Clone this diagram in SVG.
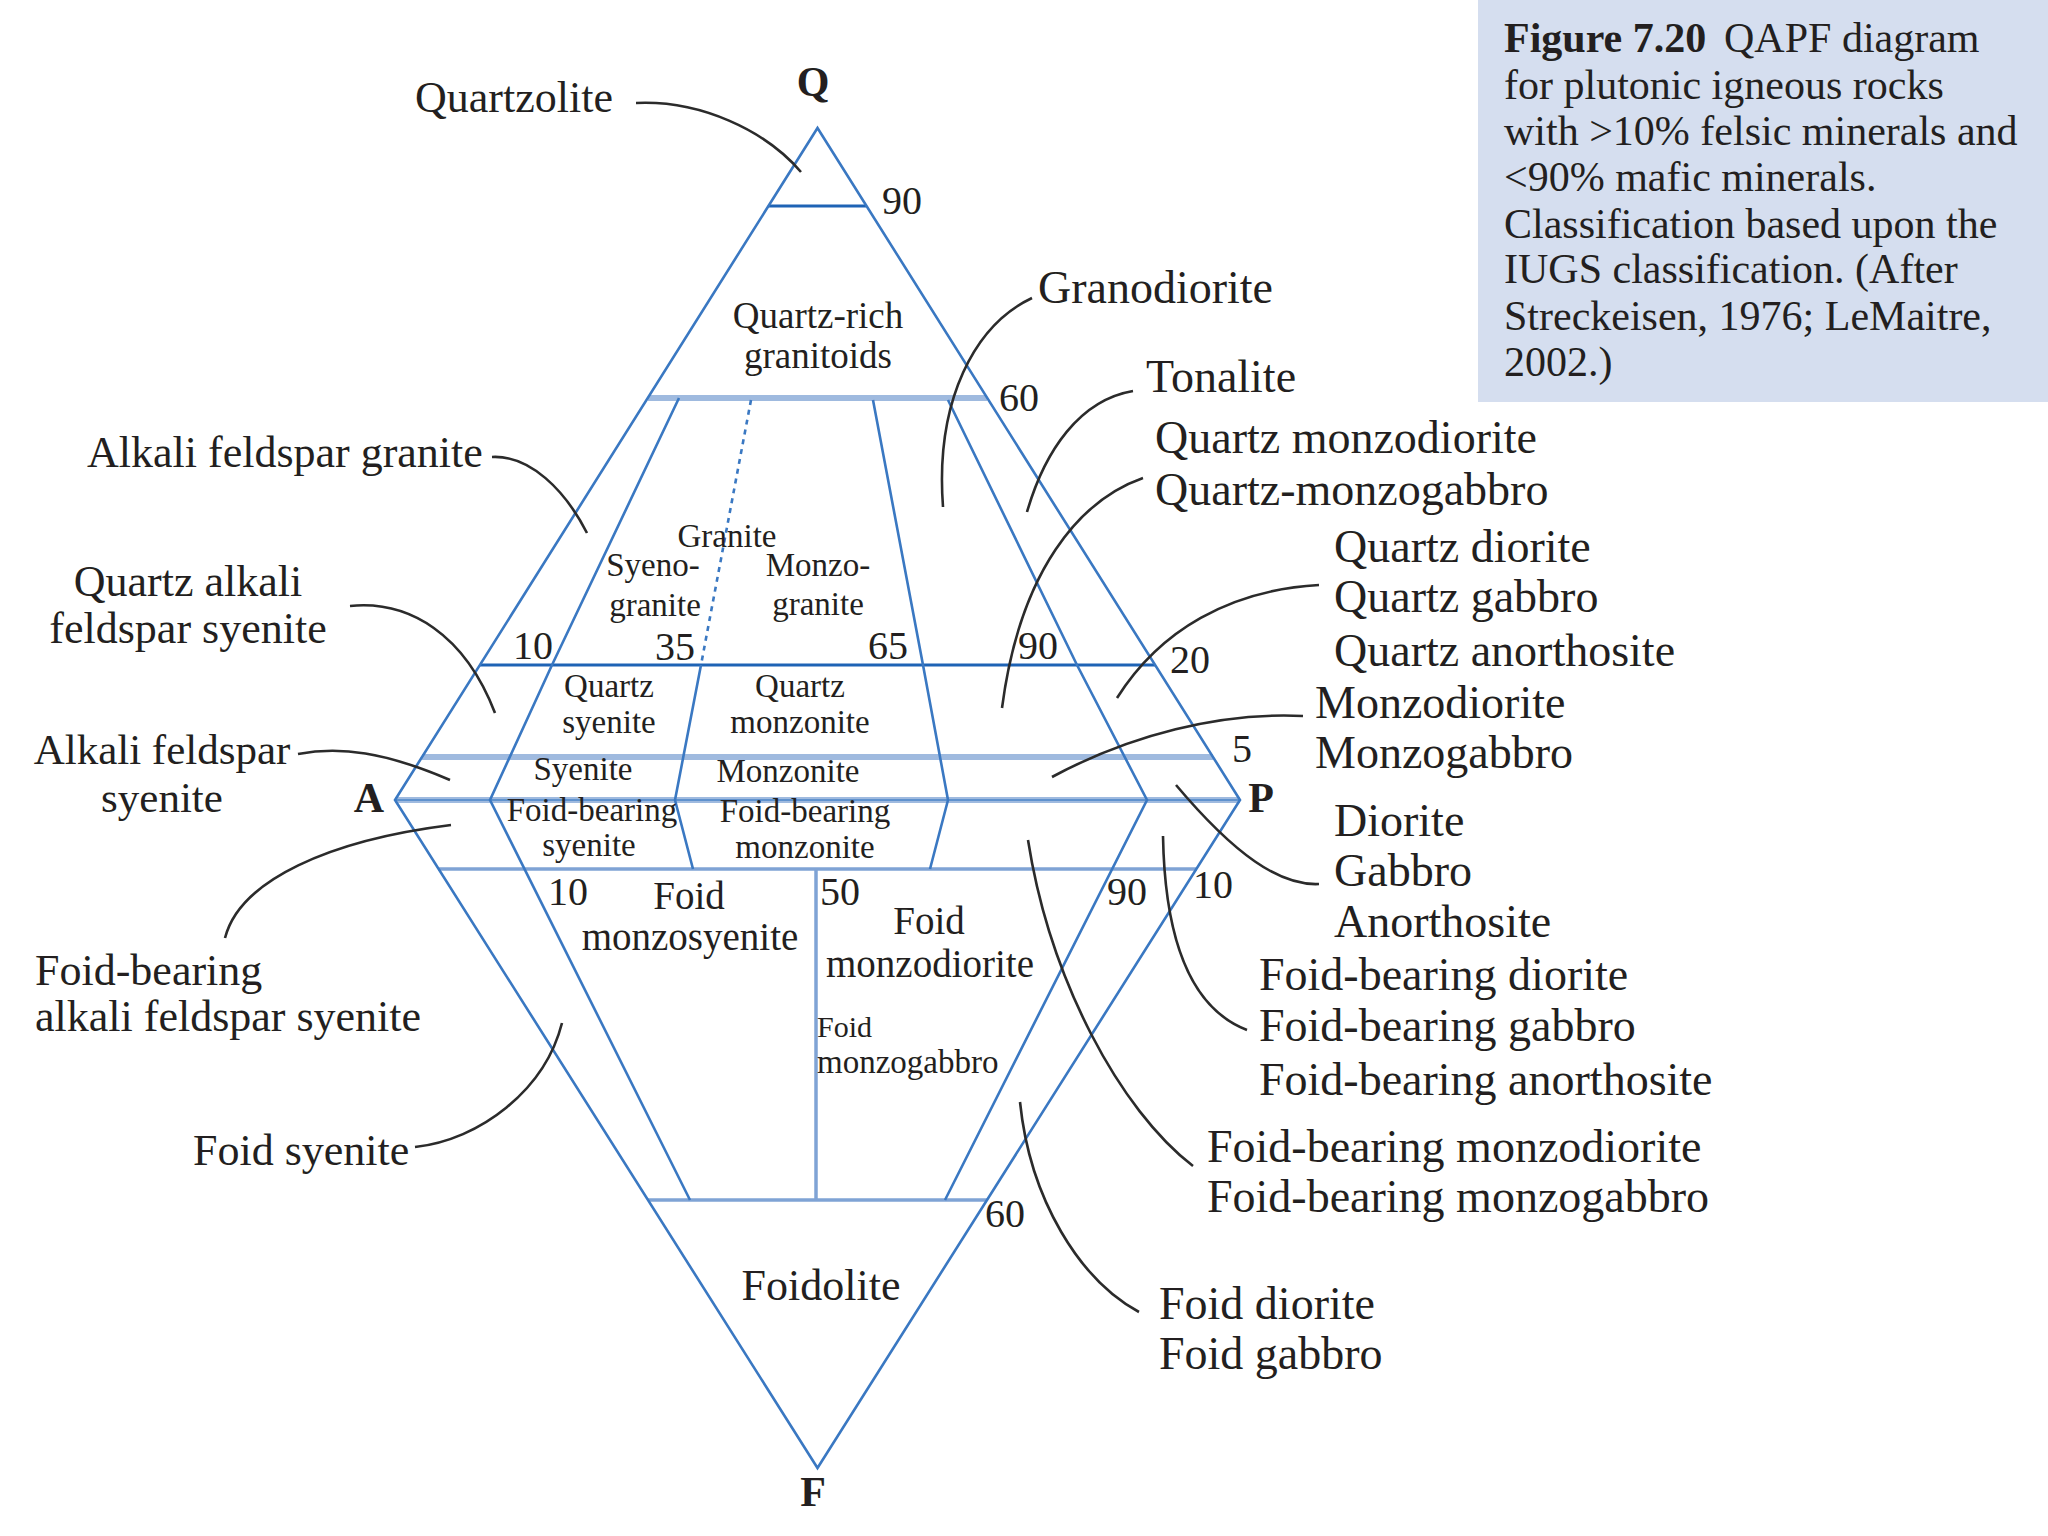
<svg xmlns="http://www.w3.org/2000/svg" width="2048" height="1536" viewBox="0 0 2048 1536">
<style>
text{font-family:"Liberation Serif","DejaVu Serif",serif;fill:#231f20}
.lbl{font-size:46px}
.lbl2{font-size:44px}
.num{font-size:40px}
.in{font-size:33px}
.mid{text-anchor:middle}
.vtx{font-size:42px;font-weight:bold;text-anchor:middle}
.cap{font-size:42px}
.edge{stroke:#3a78c2;stroke-width:2.6;fill:none}
.dark{stroke:#1e63b5;stroke-width:3.2;fill:none}
.light{stroke:#9fbadf;stroke-width:6;fill:none}
.mlight{stroke:#7fa3d5;stroke-width:3.5;fill:none}
.core{stroke:#4a84c8;stroke-width:1.6;fill:none}
.dot{stroke:#3a78c2;stroke-width:2.6;fill:none;stroke-dasharray:5 5}
.lead{stroke:#2b2b2b;stroke-width:2.6;fill:none}
</style>
<rect x="0" y="0" width="2048" height="1536" fill="#ffffff"/>
<g id="caption">
<rect x="1478" y="0" width="570" height="402" fill="#d5deef"/>
<text class="cap" x="1504" y="52"><tspan font-weight="bold">Figure 7.20</tspan><tspan x="1724">QAPF diagram</tspan></text>
<text class="cap" x="1504" y="99">for plutonic igneous rocks</text>
<text class="cap" x="1504" y="145">with &gt;10% felsic minerals and</text>
<text class="cap" x="1504" y="191">&lt;90% mafic minerals.</text>
<text class="cap" x="1504" y="238">Classification based upon the</text>
<text class="cap" x="1504" y="283">IUGS classification. (After</text>
<text class="cap" x="1504" y="330">Streckeisen, 1976; LeMaitre,</text>
<text class="cap" x="1504" y="376">2002.)</text>
</g>
<g id="grid">
<line class="light" x1="648" y1="398" x2="987" y2="398"/>
<line class="light" x1="422" y1="757" x2="1213" y2="757"/>
<line class="light" x1="395" y1="800" x2="1240" y2="800"/>
<line class="core" x1="395" y1="800" x2="1240" y2="800"/>
<line class="mlight" x1="438" y1="869" x2="1197" y2="869"/>
<line class="mlight" x1="648" y1="1200" x2="987" y2="1200"/>
<line class="mlight" x1="816" y1="869" x2="816" y2="1200"/>
<line class="dark" x1="768" y1="206" x2="866" y2="206"/>
<line class="dark" x1="480" y1="665" x2="1155" y2="665"/>
<polyline class="edge" points="679,398 552,665 490,800 690,1200"/>
<line class="dot" x1="751" y1="400" x2="701" y2="665"/>
<polyline class="edge" points="701,665 675,800 693,869"/>
<polyline class="edge" points="873,400 923,665 948,800 930,869"/>
<polyline class="edge" points="948,400 1077,665 1147,800 945,1200"/>
<polygon class="edge" points="817.5,128 395,800 817.5,1468 1240,800"/>
</g>
<g id="connectors">
<path class="lead" d="M 636 103 C 700 100, 765 130, 801 172"/>
<path class="lead" d="M 492 457 C 530 455, 565 490, 587 533"/>
<path class="lead" d="M 350 606 C 410 600, 465 635, 495 713"/>
<path class="lead" d="M 298 754 C 340 746, 385 752, 450 780"/>
<path class="lead" d="M 225 938 C 240 880, 330 840, 451 825"/>
<path class="lead" d="M 415 1147 C 480 1140, 545 1090, 562 1023"/>
<path class="lead" d="M 1032 298 C 975 325, 935 400, 943 507"/>
<path class="lead" d="M 1133 391 C 1080 400, 1045 450, 1027 512"/>
<path class="lead" d="M 1143 478 C 1080 500, 1020 570, 1002 708"/>
<path class="lead" d="M 1319 585 C 1230 590, 1160 630, 1117 698"/>
<path class="lead" d="M 1303 716 C 1220 712, 1130 735, 1052 777"/>
<path class="lead" d="M 1319 884 C 1280 886, 1235 855, 1176 785"/>
<path class="lead" d="M 1247 1030 C 1195 1010, 1165 950, 1163 836"/>
<path class="lead" d="M 1193 1166 C 1120 1110, 1050 980, 1028 840"/>
<path class="lead" d="M 1139 1312 C 1080 1280, 1030 1200, 1020 1102"/>
</g>
<g id="vertices">
<text id="vQ" class="vtx" x="813" y="96">Q</text>
<text id="vA" class="vtx" x="369" y="812">A</text>
<text id="vP" class="vtx" x="1261" y="812">P</text>
<text id="vF" class="vtx" x="813" y="1506">F</text>
</g>
<g id="numbers" class="num">
<text x="882" y="214">90</text>
<text x="999" y="411">60</text>
<text x="513" y="659">10</text>
<text x="655" y="660">35</text>
<text x="868" y="659">65</text>
<text x="1018" y="659">90</text>
<text x="1170" y="673">20</text>
<text x="1232" y="762">5</text>
<text x="548" y="905">10</text>
<text x="820" y="905">50</text>
<text x="1107" y="905">90</text>
<text x="1193" y="898">10</text>
<text x="985" y="1227">60</text>
</g>
<g id="n-quartzolite"><text class="lbl2" x="415" y="112">Quartzolite</text></g>
<g id="n-afgranite"><text class="lbl2" x="87" y="467">Alkali feldspar granite</text></g>
<g id="n-qafsyenite"><text class="lbl2 mid" x="188" y="596">Quartz alkali</text><text class="lbl2 mid" x="188" y="643">feldspar syenite</text></g>
<g id="n-afsyenite"><text class="lbl2 mid" x="162" y="764" style="font-size:43px">Alkali feldspar</text><text class="lbl2 mid" x="162" y="812" style="font-size:43px">syenite</text></g>
<g id="n-fbafsyenite"><text class="lbl2" x="35" y="985">Foid-bearing</text><text class="lbl2" x="35" y="1031">alkali feldspar syenite</text></g>
<g id="n-foidsyenite"><text class="lbl2" x="193" y="1165">Foid syenite</text></g>
<g id="n-foidolite"><text class="mid" style="font-size:44px" x="821" y="1300">Foidolite</text></g>
<g id="n-granodiorite"><text class="lbl" x="1038" y="303">Granodiorite</text></g>
<g id="n-tonalite"><text class="lbl" x="1146" y="392">Tonalite</text></g>
<g id="n-qmonzodiorite"><text class="lbl" x="1155" y="453">Quartz monzodiorite</text><text class="lbl" x="1155" y="505">Quartz-monzogabbro</text></g>
<g id="n-qdiorite"><text class="lbl" x="1334" y="562">Quartz diorite</text><text class="lbl" x="1334" y="612">Quartz gabbro</text><text class="lbl" x="1334" y="666">Quartz anorthosite</text></g>
<g id="n-monzodiorite"><text class="lbl" x="1315" y="718">Monzodiorite</text><text class="lbl" x="1315" y="768">Monzogabbro</text></g>
<g id="n-diorite"><text class="lbl" x="1334" y="836">Diorite</text><text class="lbl" x="1334" y="886">Gabbro</text><text class="lbl" x="1334" y="937">Anorthosite</text></g>
<g id="n-fbdiorite"><text class="lbl" x="1259" y="990">Foid-bearing diorite</text><text class="lbl" x="1259" y="1041">Foid-bearing gabbro</text><text class="lbl" x="1259" y="1095">Foid-bearing anorthosite</text></g>
<g id="n-fbmonzodiorite"><text class="lbl" x="1207" y="1162">Foid-bearing monzodiorite</text><text class="lbl" x="1207" y="1212">Foid-bearing monzogabbro</text></g>
<g id="n-foiddiorite"><text class="lbl" x="1159" y="1319">Foid diorite</text><text class="lbl" x="1159" y="1369">Foid gabbro</text></g>
<g id="n-qrich"><text class="mid" style="font-size:37px" x="818" y="328">Quartz-rich</text><text class="mid" style="font-size:37px" x="818" y="368">granitoids</text></g>
<g id="n-granite"><text class="in mid" x="727" y="547">Granite</text><text class="in mid" x="653" y="576">Syeno-</text><text class="in mid" x="655" y="616">granite</text><text class="in mid" x="818" y="576">Monzo-</text><text class="in mid" x="818" y="615">granite</text></g>
<g id="n-qsyenite"><text class="in mid" x="609" y="697">Quartz</text><text class="in mid" x="609" y="733">syenite</text></g>
<g id="n-qmonzonite"><text class="in mid" x="800" y="697">Quartz</text><text class="in mid" x="800" y="733">monzonite</text></g>
<g id="n-syenite"><text class="in mid" x="583" y="780">Syenite</text></g>
<g id="n-monzonite"><text class="in mid" x="788" y="782">Monzonite</text></g>
<g id="n-fbsyenite"><text class="in mid" x="592" y="821">Foid-bearing</text><text class="in mid" x="589" y="856">syenite</text></g>
<g id="n-fbmonzonite"><text class="in mid" x="805" y="822">Foid-bearing</text><text class="in mid" x="805" y="858">monzonite</text></g>
<g id="n-foidmonzosyenite"><text class="mid" style="font-size:39px" x="689" y="909">Foid</text><text class="mid" style="font-size:39px" x="690" y="950">monzosyenite</text></g>
<g id="n-foidmonzodiorite"><text class="mid" style="font-size:39px" x="929" y="934">Foid</text><text class="mid" style="font-size:39px" x="930" y="977">monzodiorite</text></g>
<g id="n-foidmonzogabbro"><text style="font-size:30px" x="817" y="1037">Foid</text><text class="in" x="817" y="1073">monzogabbro</text></g>
</svg>
